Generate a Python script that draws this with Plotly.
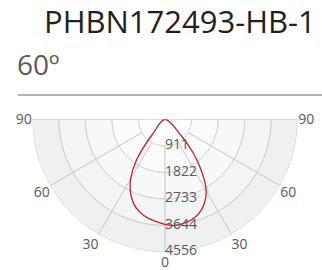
import numpy as np
import plotly.graph_objects as go

# ---------------- data ----------------
title_text = "PHBN172493-HB-1"
beam_text = "60º"

angle_ticks = [-90, -60, -30, 0, 30, 60, 90]
angle_labels = ["90", "60", "30", "0", "30", "60", "90"]

radial_ticks = [911, 1822, 2733, 3644, 4556]
radial_labels = ["911", "1822", "2733", "3644", "4556"]

curve_angles = [-43, -40, -35, -30, -25, -20, -15, -10, -5, 0,
                5, 10, 15, 20, 25, 30, 35, 40, 45, 49]
curve_values = [0, 670, 1707, 2356, 2796, 3109, 3307, 3436, 3522, 3610,
                3660, 3630, 3560, 3430, 3190, 2830, 2200, 1510, 750, 0]

band_colors = ["#ffffff", "#fbfbfb", "#f7f8f8", "#f3f4f4", "#eff0f0"]
grid_color = "#c6c6c6"
curve_color = "#c81e2d"
text_color = "#595959"

# ---------------- figure ----------------
fig = go.Figure()

# background bands (gradient-like rings)
inner = [0] + radial_ticks[:-1]
fig.add_trace(go.Barpolar(
    r=[o - i for o, i in zip(radial_ticks, inner)],
    base=inner,
    theta=[0] * len(radial_ticks),
    width=[180] * len(radial_ticks),
    marker=dict(color=band_colors, line=dict(width=0)),
    hoverinfo="skip",
))

# ring grid lines
ring_theta = np.linspace(-90, 90, 241)
for t in radial_ticks:
    fig.add_trace(go.Scatterpolar(
        r=[t] * len(ring_theta), theta=ring_theta, mode="lines",
        line=dict(color=grid_color, width=1), hoverinfo="skip"))

# spokes
for a in angle_ticks:
    r0 = 0 if abs(a) == 90 else radial_ticks[0]
    fig.add_trace(go.Scatterpolar(
        r=[r0, radial_ticks[-1]], theta=[a, a], mode="lines",
        line=dict(color=grid_color, width=1), hoverinfo="skip"))

# intensity curve
fig.add_trace(go.Scatterpolar(
    r=curve_values, theta=curve_angles, mode="lines",
    line=dict(color=curve_color, width=1.3, shape="spline", smoothing=1),
    hoverinfo="skip"))

# radial tick labels along 0 deg
fig.add_trace(go.Scatterpolar(
    r=radial_ticks, theta=[0] * len(radial_ticks), mode="text",
    text=radial_labels, textposition="middle right",
    textfont=dict(family="Open Sans", size=14, color=text_color),
    hoverinfo="skip"))

fig.update_layout(
    width=322, height=270,
    margin=dict(l=0, r=0, t=0, b=0),
    paper_bgcolor="white",
    showlegend=False,
    polar=dict(
        domain=dict(x=[32.3 / 322, 297.7 / 322], y=[18.0 / 270, 150.7 / 270]),
        sector=[180, 360],
        bgcolor="rgba(0,0,0,0)",
        barmode="overlay",
        angularaxis=dict(
            rotation=270, direction="counterclockwise",
            tickmode="array",
            tickvals=[a + 360 for a in angle_ticks], ticktext=angle_labels,
            showgrid=False, showline=False, ticks="",
            showticklabels=True,
            tickfont=dict(family="Open Sans", size=14, color=text_color),
        ),
        radialaxis=dict(
            range=[0, radial_ticks[-1]],
            showgrid=False, showline=False, ticks="", showticklabels=False,
        ),
    ),
    annotations=[
        dict(text=title_text, xref="paper", yref="paper",
             x=318 / 322, y=1 + 2 / 270, xanchor="right", yanchor="top",
             showarrow=False,
             font=dict(family="Open Sans", size=31, color="#231f20")),
        dict(text=beam_text, xref="paper", yref="paper",
             x=15 / 322, y=1 - 64 / 270, xanchor="left", yanchor="middle",
             showarrow=False,
             font=dict(family="Open Sans", size=28, color="#5a5a5a")),
    ],
    shapes=[
        dict(type="line", xref="paper", yref="paper",
             x0=18 / 322, x1=1, y0=1 - 95 / 270, y1=1 - 95 / 270,
             line=dict(color="#9a9a9a", width=1.5)),
    ],
)

fig.write_html(
    "out.html",
    config={"displayModeBar": False},
    post_script="document.body.style.margin='0';document.body.style.overflow='hidden';",
)
